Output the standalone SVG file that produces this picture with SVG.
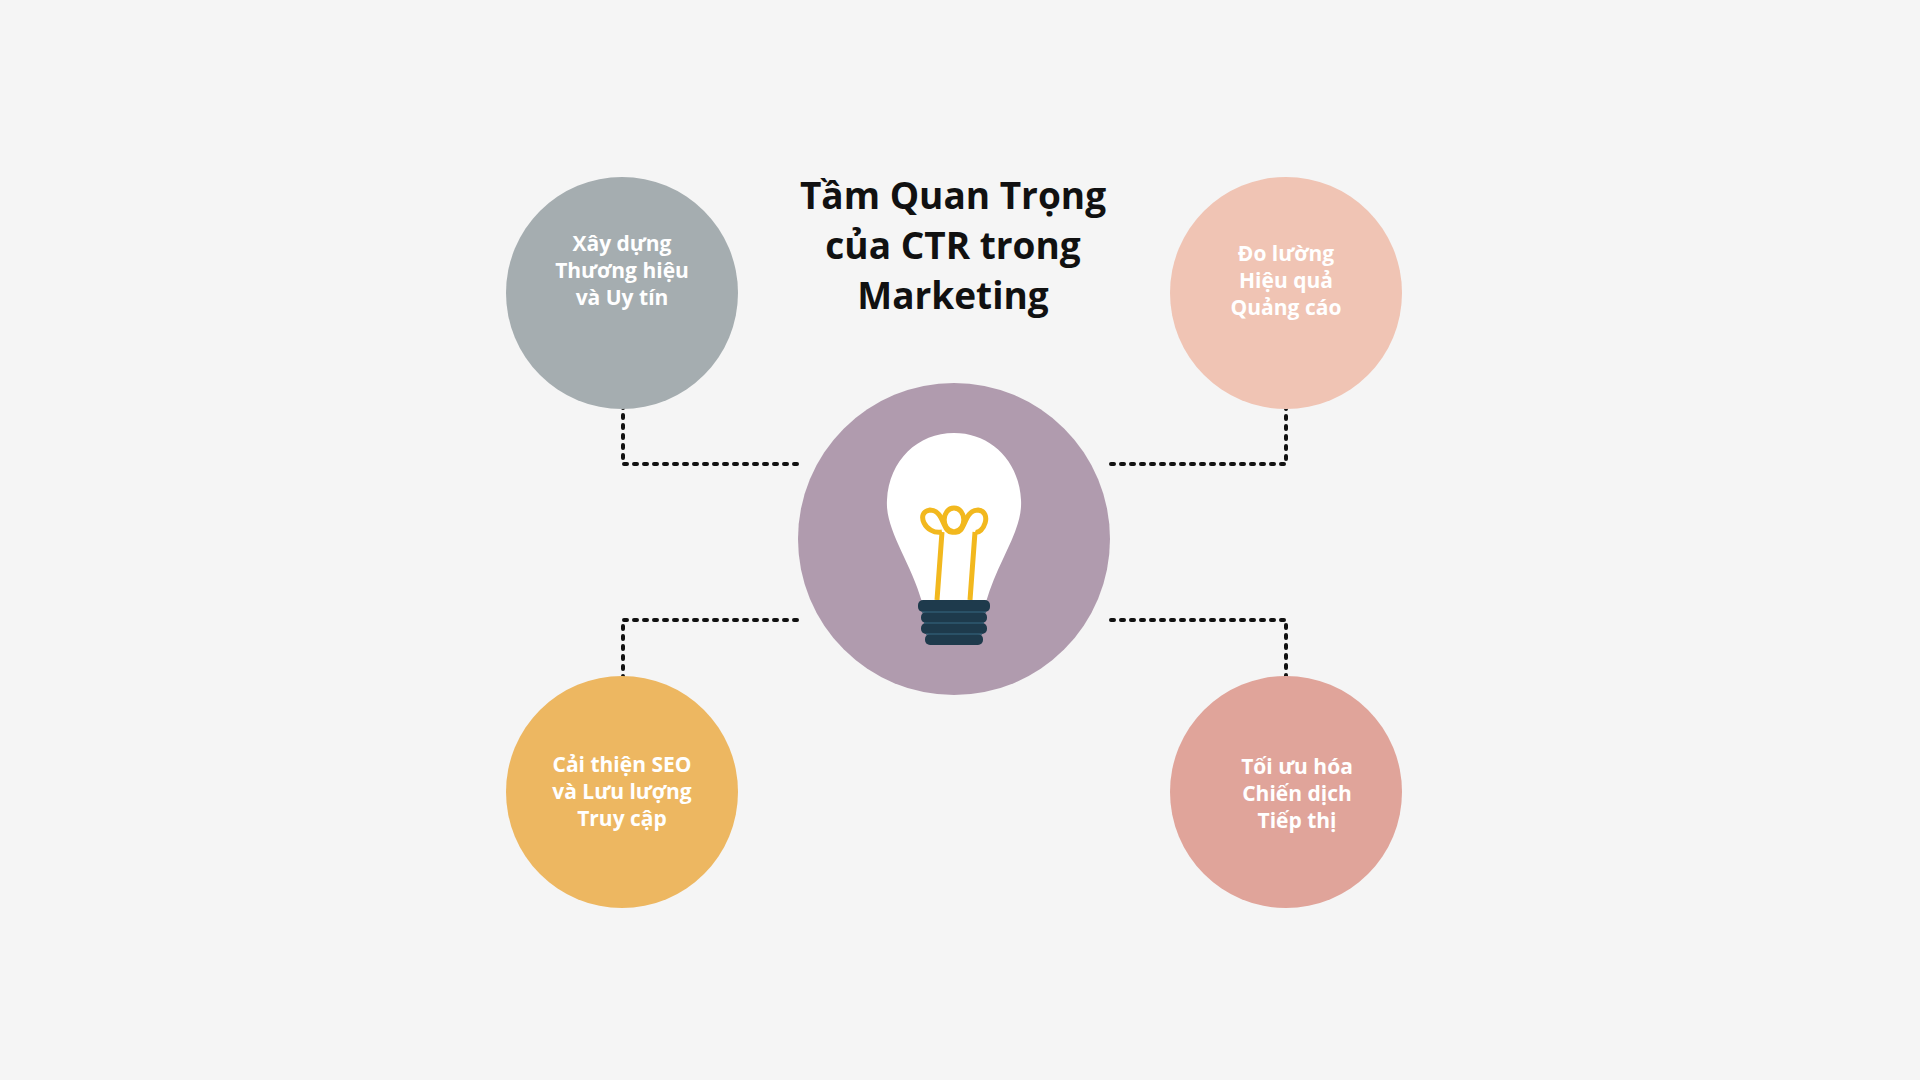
<svg xmlns="http://www.w3.org/2000/svg" width="1920" height="1080" viewBox="0 0 1920 1080">
<defs>
<style>
.t{font-family:"Open Sans","Noto Sans","DejaVu Sans",sans-serif;font-weight:bold;text-anchor:middle}
.title{font-size:37px;fill:#111}
.n{font-size:21px;fill:#fff}
.c{fill:none;stroke:#111;stroke-width:4;stroke-dasharray:3 7;stroke-linecap:round}
</style>
<marker id="a" markerWidth="10" markerHeight="10" refX="5" refY="5" orient="auto" markerUnits="userSpaceOnUse" viewBox="0 0 10 10"><path d="M0,0 L10,5 L0,10 z" fill="#111"/></marker>
</defs>
<rect width="1920" height="1080" fill="#f5f5f5"/>
<g id="connectors">
<path class="c" d="M797,464 H623 V363" marker-end="url(#a)"/>
<path class="c" d="M1111,464 H1286 V363" marker-end="url(#a)"/>
<path class="c" d="M797,620 H623 V722" marker-end="url(#a)"/>
<path class="c" d="M1111,620 H1286 V718" marker-end="url(#a)"/>
</g>
<g id="title"><text class="t title" x="953" y="209">Tầm Quan Trọng</text><text class="t title" x="953" y="259">của CTR trong</text><text class="t title" x="953" y="309">Marketing</text></g>
<g id="n1"><circle cx="622" cy="293" r="116" fill="#a5adb0"/><text class="t n" x="622" y="251">Xây dựng</text><text class="t n" x="622" y="278">Thương hiệu</text><text class="t n" x="622" y="305">và Uy tín</text></g>
<g id="n2"><circle cx="1286" cy="293" r="116" fill="#f0c4b4"/><text class="t n" x="1286" y="261">Đo lường</text><text class="t n" x="1286" y="288">Hiệu quả</text><text class="t n" x="1286" y="315">Quảng cáo</text></g>
<g id="n3"><circle cx="622" cy="792" r="116" fill="#edb761"/><text class="t n" x="622" y="772">Cải thiện SEO</text><text class="t n" x="622" y="799">và Lưu lượng</text><text class="t n" x="622" y="826">Truy cập</text></g>
<g id="n4"><circle cx="1286" cy="792" r="116" fill="#e0a49a"/><text class="t n" x="1297" y="774">Tối ưu hóa</text><text class="t n" x="1297" y="801">Chiến dịch</text><text class="t n" x="1297" y="828">Tiếp thị</text></g>
<g id="center"><circle cx="954" cy="539" r="156" fill="#b09bae"/>
<path d="M922,602 C910,560 885,530 887,500 C889,460 918,433 954,433 C990,433 1019,460 1021,500 C1023,530 998,560 986,602 Z" fill="#fff"/>
<path d="M937,600 L942,532 M970,600 L975,532" stroke="#f2b81e" stroke-width="5" fill="none"/>
<path d="M942,532 C925,535 915,512 930,510 C945,510 942,535 954,532 C940,530 942,508 954,508 C966,508 968,530 954,532 C966,535 963,510 978,510 C993,512 983,535 975,532" stroke="#f2b81e" stroke-width="5" fill="none"/>
<g fill="#1e3a4c"><rect x="918" y="600" width="72" height="12" rx="5"/><rect x="921" y="612" width="66" height="11" rx="5"/><rect x="921" y="623" width="66" height="11" rx="5"/><rect x="925" y="634" width="58" height="11" rx="5"/></g>
<g stroke="#2f5a70" stroke-width="1.5"><line x1="922" y1="612" x2="986" y2="612"/><line x1="924" y1="623" x2="984" y2="623"/><line x1="926" y1="634" x2="982" y2="634"/></g>
</g>
</svg>
